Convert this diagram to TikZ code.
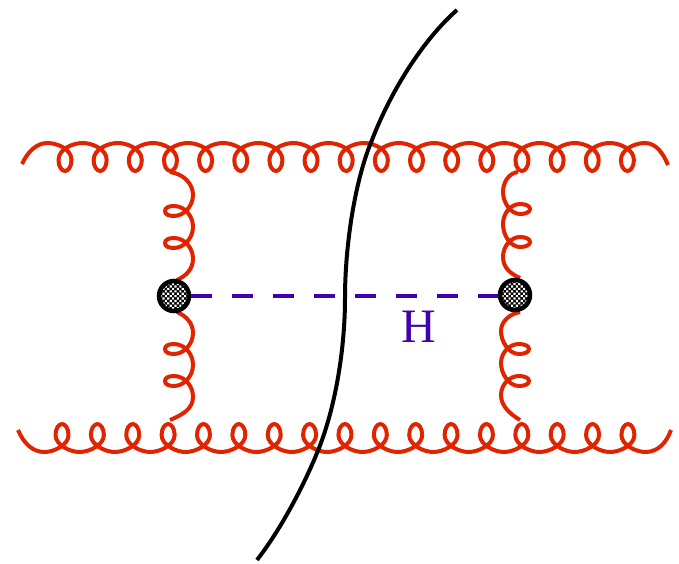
\documentclass[tikz,border=0pt]{standalone}
\usepackage{fontspec}
\usetikzlibrary{patterns.meta}
\setmainfont{Liberation Serif}
\definecolor{gluon}{RGB}{224,36,0}
\definecolor{higgs}{RGB}{64,0,176}
\tikzset{
  gluonline/.style={draw=gluon,line width=4pt,line cap=butt,line join=round},
  cutline/.style={draw=black,line width=4pt},
  higgsline/.style={draw=higgs,line width=3.6pt,dash pattern=on 21pt off 20pt},
  blob/.style={circle,draw=black,line width=4.5pt,minimum size=30pt,inner sep=0pt,
    preaction={fill=black},pattern={Dots[radius=1.5pt,distance=3.4pt,angle=45]},pattern color=white},
  hlabel/.style={text=higgs,font=\fontsize{48}{48}\selectfont,inner sep=0pt}
}
\begin{document}
\begin{tikzpicture}[x=1pt,y=-1pt]
\useasboundingbox (0,0) rectangle (679,563);
% top gluon
\coordinate (tl) at (22,164);
\coordinate (tr) at (668,165);
\draw[gluonline] (tl) .. controls (28,151) and (37,143) .. (47.5,143)
  \foreach \k [evaluate=\k as \x using 65+35.15*\k] in {0,...,16} {
    .. controls ({\x-8},143) and ({\x+6.5},149) .. ({\x+6.5},160)
    .. controls ({\x+6.5},167) and ({\x+3},171) .. ({\x},171)
    .. controls ({\x-3},171) and ({\x-6.5},167) .. ({\x-6.5},160)
    .. controls ({\x-6.5},149) and ({\x+8},143) .. ({\x+17.5},143)
  } .. controls (656,143) and (663,153) .. (tr);
% bottom gluon
\coordinate (bl) at (18,430);
\coordinate (br) at (671,430);
\draw[gluonline] (bl) .. controls (24,444) and (33,452) .. (44.5,452)
  \foreach \k [evaluate=\k as \x using 62+35.37*\k] in {0,...,16} {
    .. controls ({\x-8},452) and ({\x+6.5},445) .. ({\x+6.5},435)
    .. controls ({\x+6.5},428) and ({\x+3},424) .. ({\x},424)
    .. controls ({\x-3},424) and ({\x-6.5},428) .. ({\x-6.5},435)
    .. controls ({\x-6.5},445) and ({\x+8},452) .. ({\x+17.5},452)
  } .. controls (657,452) and (666,444) .. (br);
% vertical gluons
\coordinate (a1) at (170,172);
\coordinate (a2) at (177,280);
\draw[gluonline] (a1) .. controls (184,174) and (193,184) .. (193,195)
  \foreach \b in {195,227} {
    .. controls (193,{\b+11}) and (184,{\b+21}) .. (174,{\b+21})
    .. controls (168,{\b+21}) and (165,{\b+19}) .. (165,{\b+16})
    .. controls (165,{\b+13}) and (168,{\b+11}) .. (174,{\b+11})
    .. controls (184,{\b+11}) and (193,{\b+20}) .. (193,{\b+32})
  } .. controls (193,269) and (186,276) .. (a2);
\coordinate (c1) at (177,312);
\coordinate (c2) at (170,420);
\draw[gluonline] (c1) .. controls (186,316) and (193,323) .. (193,333)
  \foreach \b in {333,365} {
    .. controls (193,{\b+11}) and (184,{\b+21}) .. (174,{\b+21})
    .. controls (168,{\b+21}) and (165,{\b+19}) .. (165,{\b+16})
    .. controls (165,{\b+13}) and (168,{\b+11}) .. (174,{\b+11})
    .. controls (184,{\b+11}) and (193,{\b+20}) .. (193,{\b+32})
  } .. controls (193,409) and (182,415) .. (c2);
\coordinate (d1) at (518,172);
\coordinate (d2) at (520,278);
\draw[gluonline] (d1) .. controls (509,173) and (503,182) .. (503,192)
  \foreach \b in {192,225} {
    .. controls (503,{\b+11}) and (511,{\b+22}) .. (520,{\b+22})
    .. controls (526,{\b+22}) and (530,{\b+20}) .. (530,{\b+17})
    .. controls (530,{\b+14}) and (526,{\b+12}) .. (520,{\b+12})
    .. controls (511,{\b+12}) and (503,{\b+21}) .. (503,{\b+32})
  } .. controls (503,268) and (511,274) .. (d2);
\coordinate (e1) at (520,312);
\coordinate (e2) at (520,420);
\draw[gluonline] (e1) .. controls (509,314) and (501,322) .. (501,331)
  \foreach \b in {331,363} {
    .. controls (501,{\b+11}) and (509,{\b+23}) .. (519,{\b+23})
    .. controls (525,{\b+23}) and (529,{\b+21}) .. (529,{\b+18})
    .. controls (529,{\b+15}) and (525,{\b+13}) .. (519,{\b+13})
    .. controls (509,{\b+13}) and (501,{\b+22}) .. (501,{\b+32})
  } .. controls (501,406) and (510,414) .. (e2);
% blobs and Higgs
\node[blob] (L) at (174,296) {};
\node[blob] (R) at (515,295) {};
\draw[higgsline] (L.east) -- (R.west |- L.east);
\node[hlabel] (H) at (419,327) {H};
% cut
\coordinate (k1) at (457,10);
\coordinate (k2) at (372,140);
\coordinate (k3) at (345,298);
\coordinate (k4) at (317,453);
\coordinate (k5) at (257,560);
\draw[cutline] (k1) .. controls (425,38) and (392,88) .. (k2)
  .. controls (355,180) and (345,245) .. (k3)
  .. controls (345,350) and (335,410) .. (k4)
  .. controls (306,480) and (284,525) .. (k5);
\end{tikzpicture}
\end{document}
